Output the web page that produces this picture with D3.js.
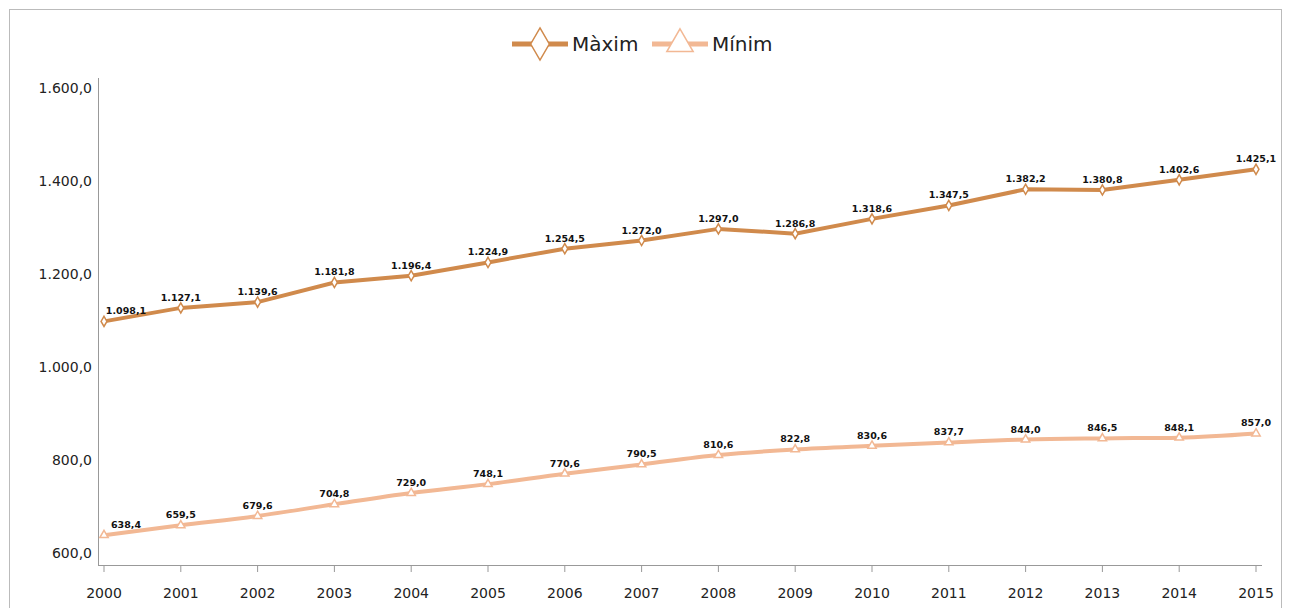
<!DOCTYPE html>
<html><head><meta charset="utf-8">
<script src="https://cdn.jsdelivr.net/npm/d3@7"></script>
<style>body{margin:0;background:#fff}text{font-family:Tahoma,"DejaVu Sans",sans-serif}</style>
</head><body><svg width="1292" height="608"></svg>
<script>
const years = [2000,2001,2002,2003,2004,2005,2006,2007,2008,2009,2010,2011,2012,2013,2014,2015];
const maxim = [1098.1,1127.1,1139.6,1181.8,1196.4,1224.9,1254.5,1272.0,1297.0,1286.8,1318.6,1347.5,1382.2,1380.8,1402.6,1425.1];
const minim = [638.4,659.5,679.6,704.8,729.0,748.1,770.6,790.5,810.6,822.8,830.6,837.7,844.0,846.5,848.1,857.0];
const yTicks = [600,800,1000,1200,1400,1600];

const svg = d3.select('svg');
const fmt = v => d3.format(',.1f')(v).replace(/,/g,'#').replace('.',',').replace(/#/g,'.');

svg.append('rect').attr('x',9.5).attr('y',9.5).attr('width',1272).attr('height',620)
  .attr('fill','none').attr('stroke','#bbb');

const x = d3.scalePoint().domain(years).range([104,1256]);
const y = d3.scaleLinear().domain([600,1600]).range([553,88]);

// axes
svg.append('line').attr('x1',98.5).attr('x2',98.5).attr('y1',78).attr('y2',565).attr('stroke','#999');
svg.append('line').attr('x1',98).attr('x2',1262).attr('y1',565.5).attr('y2',565.5).attr('stroke','#999');
svg.selectAll('.yl').data(yTicks).join('text')
  .attr('x',92).attr('y',d=>y(d)+5).attr('text-anchor','end')
  .attr('font-size',14).attr('fill','#222').text(d=>fmt(d));
svg.selectAll('.xt').data(years).join('line')
  .attr('x1',d=>x(d)).attr('x2',d=>x(d)).attr('y1',565).attr('y2',572).attr('stroke','#999');
svg.selectAll('.xl').data(years).join('text')
  .attr('x',d=>x(d)).attr('y',598).attr('text-anchor','middle')
  .attr('font-size',14).attr('fill','#222').text(d=>d);

const series = [
  {name:'Màxim', vals:maxim, color:'#d08a4c', sym:d3.symbolDiamond},
  {name:'Mínim', vals:minim, color:'#f2b894', sym:d3.symbolTriangle}
];
const line = d3.line().x((d,i)=>x(years[i])).y(d=>y(d)).curve(d3.curveMonotoneX);

series.forEach((s,k) => {
  const lf = k===0 ? d3.line().x((d,i)=>x(years[i])).y(d=>y(d)) : line;
  svg.append('path').attr('d',lf(s.vals)).attr('fill','none')
    .attr('stroke',s.color).attr('stroke-width',4);
  svg.selectAll(null).data(s.vals).join('path')
    .attr('transform',(d,i)=>`translate(${x(years[i])},${y(d)})`)
    .attr('d',d3.symbol().type(s.sym).size(30)).attr('fill','#fff').attr('stroke',s.color).attr('stroke-width',1.5);
  svg.selectAll(null).data(s.vals).join('text')
    .attr('x',(d,i)=>x(years[i])+(i===0?22:0)).attr('y',d=>y(d)-7)
    .attr('text-anchor','middle').attr('font-size',9.5).attr('font-weight','bold')
    .attr('fill','#111').text(d=>fmt(d));
});

// legend
const leg = [[512,'Màxim'],[652,'Mínim']];
series.forEach((s,k) => {
  const lx = leg[k][0];
  svg.append('line').attr('x1',lx).attr('x2',lx+56).attr('y1',44).attr('y2',44)
    .attr('stroke',s.color).attr('stroke-width',5);
  svg.append('path').attr('transform',`translate(${lx+28},44)`)
    .attr('d',d3.symbol().type(s.sym).size(300)).attr('fill','#fff').attr('stroke',s.color).attr('stroke-width',1.5);
  svg.append('text').attr('x',lx+60).attr('y',51).attr('font-size',20).attr('fill','#222').text(s.name);
});
</script></body></html>
